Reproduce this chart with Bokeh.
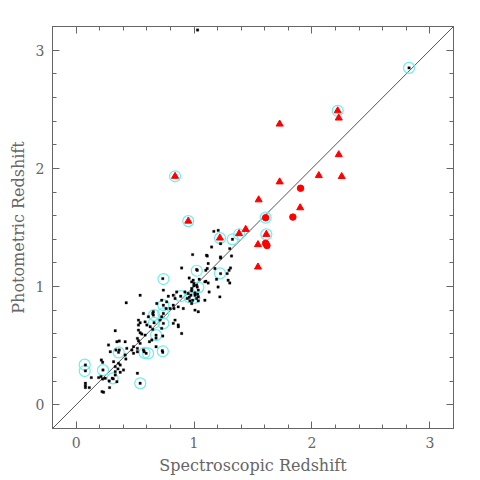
from bokeh.plotting import figure
from bokeh.models import LinearAxis, SingleIntervalTicker, Range1d, CustomJSTickFormatter
from bokeh.embed import file_html
from bokeh.resources import INLINE

# ---- data ----
black_x = [1.168,1.205,1.326,1.225,1.149,1.303,1.112,1.225,1.225,1.318,0.988,1.027,1.112,1.10,1.177,1.309,1.297,1.225,1.191,1.281,1.289,1.044,1.10,1.204,0.999,0.98,1.027,
           0.895,1.022,0.959,0.993,0.999,0.735,1.022,0.98,
           0.543,0.74,0.824,0.839,0.923,0.951,0.974,1.008,1.03,0.887,0.943,0.965,0.988,1.022,1.036,0.684,0.74,0.824,0.866,0.909,1.008,1.036,0.655,0.65,0.655,0.74,0.571,0.613,0.726,0.712,0.529,0.543,0.529,0.585,0.6,0.661,0.74,0.824,0.866,0.628,0.65,0.726,0.529,0.543,0.557,0.895,0.585,0.678,0.678,0.735,0.52,0.529,0.543,0.622,0.642,0.487,0.577,0.731,
           1.092,1.12,1.303,1.128,0.98,1.036,1.008,1.036,1.092,1.219,0.98,
           0.425,0.332,0.275,0.346,0.366,0.416,0.43,0.29,0.338,0.366,
           0.36,0.416,0.422,0.473,0.487,0.079,0.079,0.214,0.225,0.318,0.36,0.374,0.332,0.355,0.228,0.402,0.374,0.332,0.129,0.191,0.211,0.225,0.247,0.307,0.315,0.332,0.281,0.346,0.079,0.079,0.079,0.112,0.284,0.22,0.233,
           0.52,0.52,0.571,0.594,0.678,0.735,0.52,0.543,
           0.839,0.867,0.83,0.797,0.726,0.763,0.768,0.782,0.853,1.106,1.12,0.96,2.823,1.03]
black_y = [1.467,1.476,1.400,1.363,1.335,1.321,1.259,1.25,1.242,1.259,1.271,1.138,1.153,1.138,1.153,1.158,1.138,1.11,1.062,1.11,1.054,1.062,1.045,0.997,1.006,1.04,0.997,
           1.158,1.145,1.073,1.054,1.026,1.068,1.012,0.984,
           0.927,0.97,0.927,0.9,0.955,0.942,0.927,0.947,0.936,0.919,0.9,0.879,0.885,0.9,0.879,0.857,0.843,0.843,0.829,0.815,0.801,0.787,0.787,0.773,0.759,0.773,0.773,0.745,0.745,0.717,0.717,0.694,0.675,0.702,0.675,0.694,0.689,0.689,0.675,0.66,0.638,0.647,0.632,0.61,0.599,0.604,0.59,0.59,0.565,0.582,0.562,0.542,0.52,0.534,0.548,0.492,0.449,0.458,
           1.04,1.031,1.031,0.955,0.964,0.97,0.927,0.913,0.885,0.913,0.857,
           0.863,0.627,0.506,0.534,0.54,0.534,0.478,0.449,0.464,0.464,
           0.444,0.422,0.388,0.464,0.436,0.337,0.287,0.379,0.36,0.365,0.351,0.337,0.323,0.304,0.295,0.295,0.276,0.281,0.23,0.23,0.239,0.219,0.225,0.225,0.22,0.253,0.202,0.196,0.183,0.163,0.146,0.146,0.146,0.112,0.107,
           0.478,0.449,0.464,0.436,0.492,0.445,0.267,0.183,
           0.717,0.66,0.815,0.815,0.885,0.815,0.871,0.919,0.955,1.265,1.195,0.91,2.85,3.17]

cyan_x = [0.073,0.073,0.228,0.31,0.361,0.544,0.58,0.61,0.741,0.74,0.74,0.661,0.661,0.74,0.678,0.735,0.887,0.961,1.003,1.037,1.023,1.22,1.327,1.22,1.383,0.839,0.951,2.823,2.218,1.607,1.613]
cyan_y = [0.34,0.286,0.294,0.224,0.443,0.182,0.44,0.435,1.064,0.843,0.773,0.759,0.694,0.689,0.59,0.453,0.919,0.91,0.905,0.994,1.134,1.112,1.4,1.41,1.443,1.933,1.554,2.85,2.487,1.583,1.442]

tri_x = [0.839,0.951,1.219,1.382,1.438,1.542,1.542,1.613,1.726,2.218,2.227,2.227,2.058,2.252,1.726,1.548,1.90]
tri_y = [1.933,1.554,1.411,1.448,1.484,1.355,1.166,1.442,2.375,2.487,2.426,2.116,1.939,1.931,1.886,1.734,1.667]

rc_x = [1.903,1.838,1.607,1.607,1.618]
rc_y = [1.832,1.588,1.583,1.366,1.347]

diag = [-0.2, 3.2]

FONT = "DejaVu Serif"
GREY = "#666666"

p = figure(width=472, height=478, output_backend="svg", toolbar_location=None,
           x_range=Range1d(-0.2, 3.2), y_range=Range1d(-0.2, 3.2),
           x_axis_type=None, y_axis_type=None,
           min_border_left=52, min_border_right=19, min_border_top=26, min_border_bottom=50)
p.grid.visible = False
p.outline_line_color = GREY
p.background_fill_color = "white"
p.border_fill_color = "white"

def make_axis(labels):
    ax = LinearAxis(ticker=SingleIntervalTicker(interval=1, num_minor_ticks=5))
    ax.axis_line_color = GREY
    ax.major_tick_line_color = GREY
    ax.minor_tick_line_color = GREY
    ax.major_tick_in = 7
    ax.major_tick_out = 0
    ax.minor_tick_in = 4
    ax.minor_tick_out = 0
    if labels:
        ax.major_label_text_font = FONT
        ax.major_label_text_font_size = "14px"
        ax.major_label_text_color = GREY
        ax.major_label_standoff = 8
        ax.axis_label_text_font = FONT
        ax.axis_label_text_font_size = "16px"
        ax.axis_label_text_font_style = "normal"
        ax.axis_label_text_color = GREY
        ax.axis_label_standoff = 5
    else:
        ax.formatter = CustomJSTickFormatter(code="return ''")
        ax.major_label_standoff = 0
    return ax

xb = make_axis(True); xb.axis_label = "Spectroscopic Redshift"
yl = make_axis(True); yl.axis_label = "Photometric Redshift"
xa = make_axis(False)
yr = make_axis(False)
p.add_layout(xb, "below")
p.add_layout(yl, "left")
p.add_layout(xa, "above")
p.add_layout(yr, "right")

p.line(diag, diag, line_color="#555555", line_width=1)
p.scatter(cyan_x, cyan_y, marker="circle", size=11, fill_color=None,
          line_color="#6fecef", line_width=1.2)
p.scatter(black_x, black_y, marker="square", size=2.4, fill_color="black", line_color="black", line_width=0.3)
p.scatter(tri_x, tri_y, marker="triangle", size=7, fill_color="red", line_color="red")
p.scatter(rc_x, rc_y, marker="circle", size=6.5, fill_color="red", line_color="red")

open("out.html", "w").write(file_html(p, INLINE))
